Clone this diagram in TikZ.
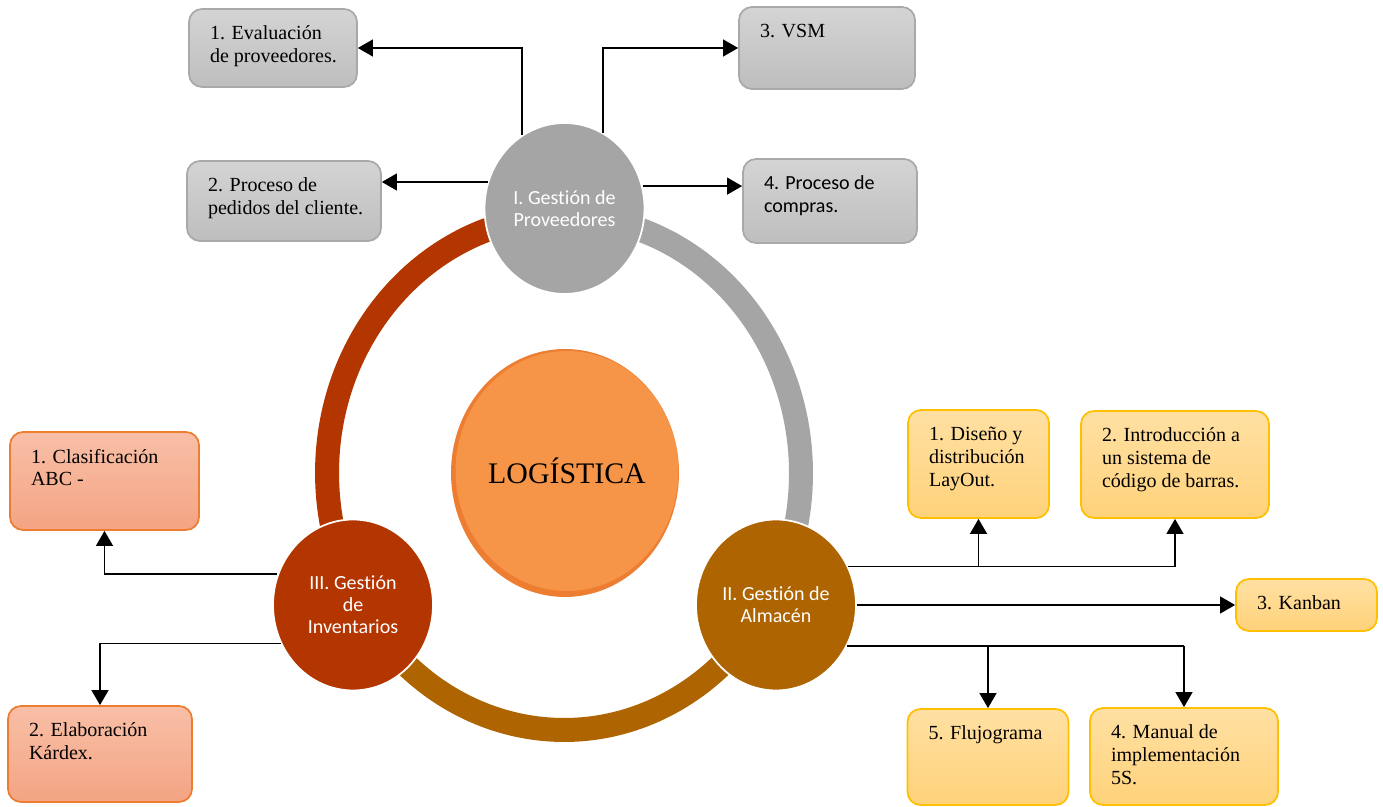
\documentclass[tikz,border=0pt]{standalone}
\usepackage{fontspec}
\setmainfont{Liberation Serif}
\newfontfamily\calibri{Carlito}[Ligatures=NoCommon]
\usetikzlibrary{arrows.meta,shapes.geometric}
\definecolor{grisnodo}{HTML}{A5A5A5}
\definecolor{rojonodo}{HTML}{B33500}
\definecolor{oronodo}{HTML}{AE6400}
\definecolor{naranja}{HTML}{F69547}
\definecolor{naranjaosc}{HTML}{ED7D31}
\definecolor{bordegris}{HTML}{A9A9A9}
\definecolor{grisclaro}{HTML}{D4D4D4}
\definecolor{grisosc}{HTML}{BEBEBE}
\definecolor{rosaclaro}{HTML}{F8BFA7}
\definecolor{rosaosc}{HTML}{F4A483}
\definecolor{ambar}{HTML}{FFC000}
\definecolor{amarilloclaro}{HTML}{FFE0A3}
\definecolor{amarilloosc}{HTML}{FFD27A}
\newcommand{\textocaja}[3]{\parbox[c][#2][t]{#1}{\raggedright\leftskip=0.42cm\vspace*{0.34cm}#3}}
\tikzset{
  etapa/.style={ellipse,draw=white,line width=1pt,minimum width=3.2cm,minimum height=3.42cm,
    inner sep=0pt,text=white,align=center,font=\calibri\fontsize{11.4}{12.6}\selectfont},
  caja/.style={rectangle,rounded corners=0.26cm,line width=1pt,inner sep=0pt,
    font=\fontsize{11.4}{13}\selectfont},
  cajagris/.style={caja,draw=bordegris,top color=grisclaro,bottom color=grisosc},
  cajarosa/.style={caja,draw=naranjaosc,top color=rosaclaro,bottom color=rosaosc},
  cajaamarilla/.style={caja,draw=ambar,top color=amarilloclaro,bottom color=amarilloosc},
  anillo/.style={line width=0.48cm},
  linea/.style={line width=1.1pt},
  flecha/.style={linea,-{Triangle[length=8.5pt,width=9.5pt]}}
}
\begin{document}
\begin{tikzpicture}[x=0.02cm,y=0.02cm]
  \useasboundingbox (0,0) rectangle (1383,807);
  \draw[anillo,rojonodo] (564,334) ++(90:4.74cm and 5.14cm) arc[start angle=90,end angle=210,x radius=4.74cm,y radius=5.14cm];
  \draw[anillo,oronodo] (564,334) ++(210:4.74cm and 5.14cm) arc[start angle=210,end angle=330,x radius=4.74cm,y radius=5.14cm];
  \draw[anillo,grisnodo] (564,334) ++(-30:4.74cm and 5.14cm) arc[start angle=-30,end angle=90,x radius=4.74cm,y radius=5.14cm];

  \fill[naranjaosc] (565,334) ellipse [x radius=2.28cm,y radius=2.48cm];
  \node[ellipse,fill=naranja,minimum width=4.4cm,minimum height=4.8cm,inner sep=0pt,
    font=\fontsize{17}{20}\selectfont] (log) at (567,336) {LOGÍSTICA};

  \node[etapa,fill=grisnodo] (prov) at (564.5,598.5) {I. Gestión de\\Proveedores};
  \node[etapa,fill=oronodo] (alm) at (776,202) {II. Gestión de\\Almacén};
  \node[etapa,fill=rojonodo] (inv) at (353,202) {III. Gestión\\de\\Inventarios};

  \node[cajagris] (eval) at (273,759) {\textocaja{3.36cm}{1.56cm}{1. Evaluación\\de proveedores.}};
  \node[cajagris] (vsm) at (827,759) {\textocaja{3.52cm}{1.64cm}{3. VSM}};
  \node[cajagris] (ped) at (284,606) {\textocaja{3.88cm}{1.6cm}{2. Proceso de\\pedidos del cliente.}};
  \node[cajagris,font=\calibri\fontsize{11.4}{13}\selectfont] (comp) at (830,606) {\textocaja{3.48cm}{1.68cm}{4. Proceso de\\compras.}};

  \node[cajarosa] (clas) at (104.5,326) {\textocaja{3.78cm}{1.96cm}{1. Clasificación\\ABC -}};
  \node[cajarosa] (kar) at (100,53) {\textocaja{3.68cm}{1.92cm}{2. Elaboración\\Kárdex.}};

  \node[cajaamarilla] (dis) at (978.5,343) {\textocaja{2.82cm}{2.16cm}{1. Diseño y\\distribución\\LayOut.}};
  \node[cajaamarilla] (intro) at (1175,342.5) {\textocaja{3.76cm}{2.14cm}{2. Introducción a\\un sistema de\\código de barras.}};
  \node[cajaamarilla] (kanban) at (1306.5,202) {\textocaja{2.82cm}{1.04cm}{3. Kanban}};
  \node[cajaamarilla] (flujo) at (988,50) {\textocaja{3.22cm}{1.92cm}{5. Flujograma}};
  \node[cajaamarilla] (manual) at (1184,50.5) {\textocaja{3.76cm}{1.94cm}{4. Manual de\\implementación\\5S.}};

  \draw[flecha] (prov.120) |- (eval.east);
  \draw[flecha] (prov.63) |- (vsm.west);
  \draw[flecha] (prov.161) -- (prov.161 -| ped.east);
  \draw[flecha] (prov.16) -- (prov.16 -| comp.west);

  \draw[linea] (alm.28) -- (alm.28 -| intro.south);
  \draw[flecha] (alm.28 -| dis.south) -- (dis.south);
  \draw[flecha] (alm.28 -| intro.south) -- (intro.south);
  \draw[flecha] (alm) -- (kanban);
  \draw[linea] (alm.330) -- (alm.330 -| manual.north);
  \draw[flecha] (alm.330 -| flujo.north) -- (flujo.north);
  \draw[flecha] (alm.330 -| manual.north) -- (manual.north);

  \draw[flecha] (inv.158) -| (clas.south);
  \draw[flecha] (inv.208) -| (kar.north);
\end{tikzpicture}
\end{document}
